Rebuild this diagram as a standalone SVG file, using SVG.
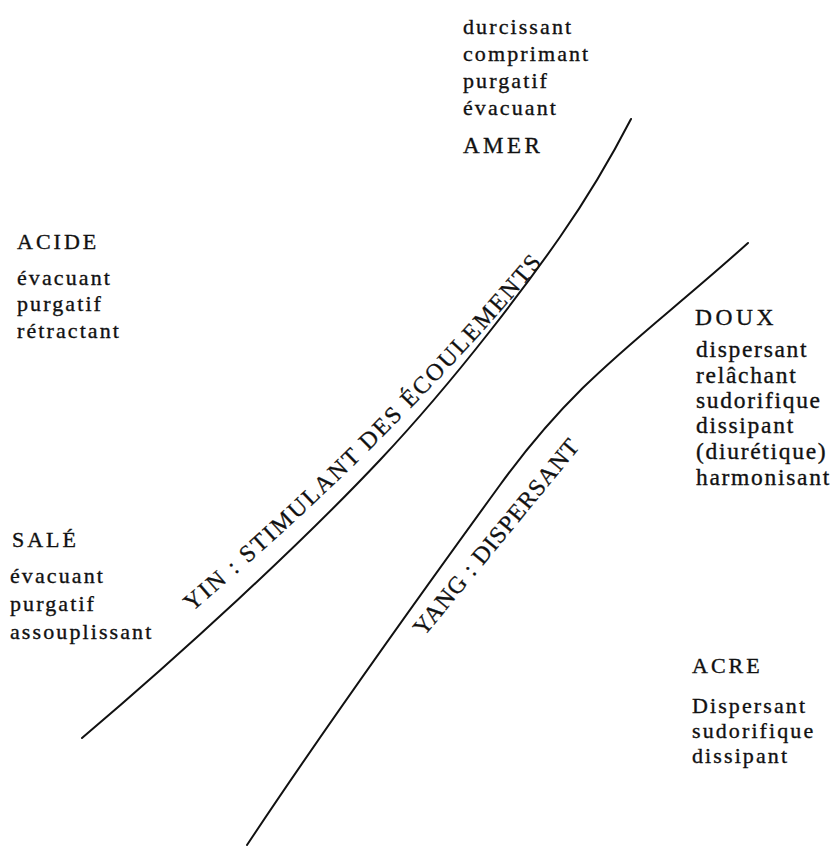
<svg xmlns="http://www.w3.org/2000/svg" width="836" height="847" viewBox="0 0 836 847">
<style>
.t{font-family:"Liberation Serif","Times New Roman",serif;font-size:22px;fill:#111;stroke:#111;stroke-width:0.35;letter-spacing:2.1px}
.h{font-family:"Liberation Serif","Times New Roman",serif;font-size:22px;fill:#111;stroke:#111;stroke-width:0.35;letter-spacing:3px}
.big .t{font-size:23.5px;letter-spacing:1.7px}
.big .h{font-size:23.5px;letter-spacing:3.5px}
.curve{fill:none;stroke:#111;stroke-width:2;stroke-linecap:round}
.lab{font-family:"Liberation Serif","Times New Roman",serif;font-size:24px;fill:#111;stroke:#111;stroke-width:0.3}
</style>
<defs>
<path id="yinText" d="M192,612 Q394,441 547,257"/>
<path id="yangText" d="M424,637 L588,438"/>
</defs>
<g id="connectors">
<path id="yin" class="curve" d="M82,738 C180,655 300,545 380,460 S530,280 560,237 S615,150 631,119"/>
<path id="yang" class="curve" d="M247,845 C320,735 420,595 500,485 S640,340 748,243"/>
</g>
<g id="amer">
<text class="t" x="463" y="34">durcissant</text>
<text class="t" x="463" y="61">comprimant</text>
<text class="t" x="463" y="88">purgatif</text>
<text class="t" x="463" y="115">évacuant</text>
<text class="h" x="463" y="153" style="font-size:23px;letter-spacing:3.5px">AMER</text>
</g>
<g id="acide">
<text class="h" x="17" y="249">ACIDE</text>
<text class="t" x="17" y="285">évacuant</text>
<text class="t" x="17" y="311">purgatif</text>
<text class="t" x="17" y="338">rétractant</text>
</g>
<g id="sale">
<text class="h" x="12" y="547">SALÉ</text>
<text class="t" x="10" y="583">évacuant</text>
<text class="t" x="10" y="611">purgatif</text>
<text class="t" x="10" y="639">assouplissant</text>
</g>
<g id="doux" class="big">
<text class="h" x="695" y="325">DOUX</text>
<text class="t" x="696" y="357">dispersant</text>
<text class="t" x="696" y="383">relâchant</text>
<text class="t" x="696" y="408">sudorifique</text>
<text class="t" x="696" y="433">dissipant</text>
<text class="t" x="696" y="459">(diurétique)</text>
<text class="t" x="696" y="485">harmonisant</text>
</g>
<g id="acre">
<text class="h" x="692" y="673">ACRE</text>
<text class="t" x="692" y="713">Dispersant</text>
<text class="t" x="692" y="738">sudorifique</text>
<text class="t" x="692" y="763">dissipant</text>
</g>
<g id="labels">
<text class="lab"><textPath href="#yinText" textLength="495" lengthAdjust="spacing">YIN : STIMULANT DES ÉCOULEMENTS</textPath></text>
<text class="lab"><textPath href="#yangText" textLength="246" lengthAdjust="spacing">YANG : DISPERSANT</textPath></text>
</g>
</svg>
